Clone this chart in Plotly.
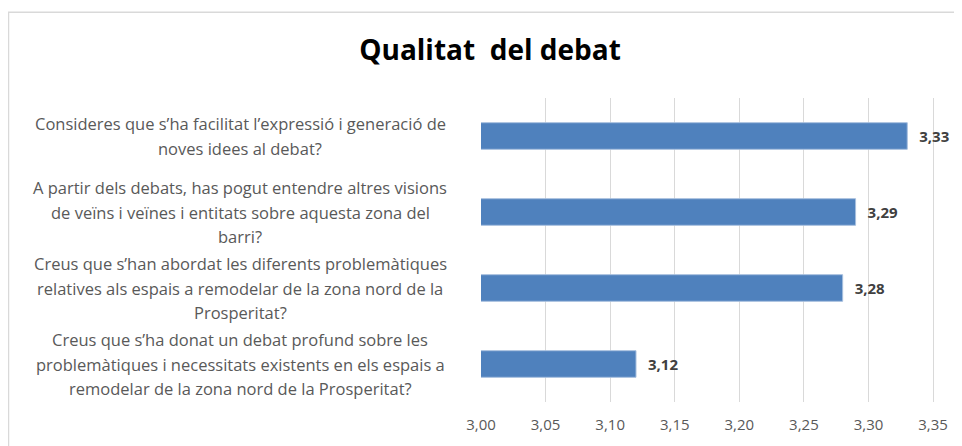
import plotly.graph_objects as go

# Data
questions = [
    ["Consideres que s\u2019ha facilitat l\u2019expressió i generació de",
     "noves idees al debat?"],
    ["A partir dels debats, has pogut entendre altres visions",
     "de veïns i veïnes i entitats sobre aquesta zona del",
     "barri?"],
    ["Creus que s\u2019han abordat les diferents problemàtiques",
     "relatives als espais a remodelar de la zona nord de la",
     "Prosperitat?"],
    ["Creus que s\u2019ha donat un debat profund sobre les",
     "problemàtiques i necessitats existents en els espais a",
     "remodelar de la zona nord de la Prosperitat?"],
]
scores = [3.33, 3.29, 3.28, 3.12]
x_ticks = [3.00, 3.05, 3.10, 3.15, 3.20, 3.25, 3.30, 3.35]

# the page body adds 8px, so the figure is sized to fill the rest of the window
W, H = 954, 438
ML, MR, MT, MB = 473, 16, 90, 41
pw, ph = W - ML - MR, H - MT - MB
cats = [str(i) for i in range(len(questions))]


def px_x(p):
    return (p - ML) / pw


def px_y(p):
    return 1 - (p - MT) / ph


fig = go.Figure()
fig.add_trace(go.Bar(
    x=scores,
    y=cats,
    orientation="h",
    marker={"color": "#4F81BD", "line": {"color": "#A7BFDE", "width": 1}},
    texttemplate="\u2002\u200a%{x:.2f}",
    textposition="outside",
    constraintext="none",
    textfont={"family": "Open Sans", "size": 15, "color": "#404040", "weight": "bold"},
    cliponaxis=False,
    width=0.35,
))

# category labels, one annotation per line so line spacing matches
line_h = 24.5
for cat, lines in zip(cats, questions):
    n = len(lines)
    for i, line in enumerate(lines):
        fig.add_annotation(
            x=px_x(232), xref="paper", xanchor="center",
            y=cat, yref="y", yanchor="middle",
            yshift=-(i - (n - 1) / 2) * line_h,
            text=line, showarrow=False,
            font={"family": "Open Sans", "size": 16.5, "color": "#595959"},
        )

# outer frame
fig.add_shape(
    type="rect", xref="paper", yref="paper",
    x0=px_x(0.5), x1=px_x(W + 10),
    y0=px_y(H + 10), y1=px_y(3.5),
    line={"color": "#D9D9D9", "width": 1.5}, layer="below",
)

fig.update_layout(
    width=W, height=H,
    margin={"l": ML, "r": MR, "t": MT, "b": MB},
    paper_bgcolor="white", plot_bgcolor="white",
    separators=",.",
    showlegend=False,
    title={
        "text": "<b>Qualitat  del debat</b>",
        "xref": "container", "x": 482 / W, "xanchor": "center",
        "yref": "container", "y": 1 - 42 / H, "yanchor": "middle",
        "font": {"family": "Open Sans", "size": 28, "color": "#000000"},
    },
    xaxis={
        "range": [3.0, 3.36],
        "tickvals": x_ticks,
        "tickformat": ".2f",
        "showgrid": True, "gridcolor": "#D9D9D9", "gridwidth": 1,
        "zeroline": False, "showline": False,
        "ticks": "outside", "ticklen": 9, "tickcolor": "rgba(0,0,0,0)",
        "tickfont": {"family": "Open Sans", "size": 15, "color": "#595959"},
    },
    yaxis={
        "autorange": "reversed",
        "showticklabels": False,
        "showgrid": False, "zeroline": False, "showline": False,
    },
)

fig.write_html("out.html")
